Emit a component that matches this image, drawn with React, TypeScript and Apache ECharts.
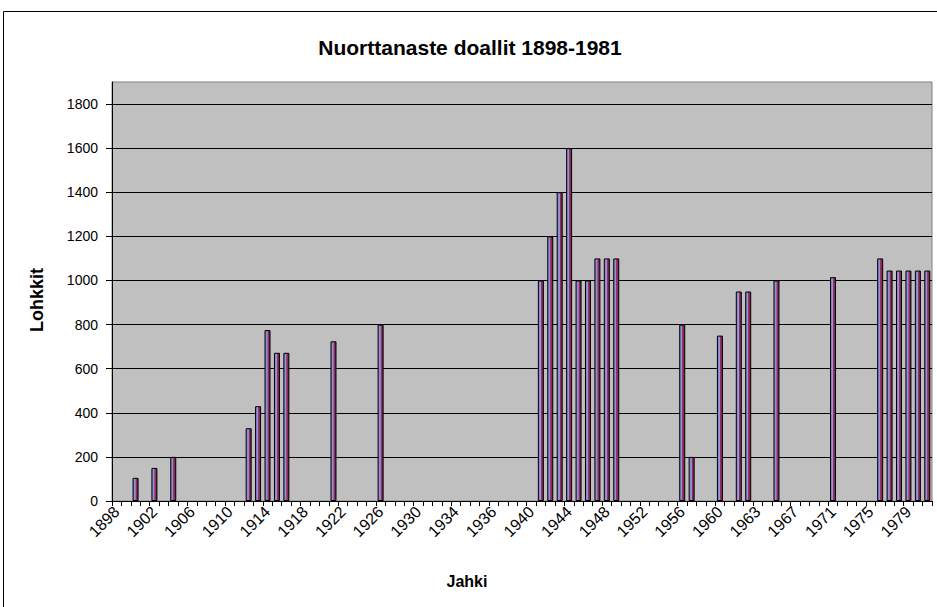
import React, { useEffect, useRef } from "react";
import * as echarts from "echarts";

const TITLE = "Nuorttanaste doallit 1898-1981";
const Y_NAME = "Lohkkit";
const X_NAME = "Jahki";

// Categories as they appear in the source sheet (labels shown every 4th)
const categories: string[] = [
  "1898", "1899", "1900", "1901", "1902", "1903", "1904", "1905",
  "1906", "1907", "1908", "1909", "1910", "1911", "1912", "1913",
  "1914", "1915", "1916", "1917", "1918", "1919", "1920", "1921",
  "1922", "1923", "1924", "1925", "1926", "1927", "1928", "1929",
  "1930", "1931", "1932", "1933", "1934", "1934", "1935", "1935",
  "1936", "1937", "1938", "1939", "1940", "1941", "1942", "1943",
  "1944", "1945", "1946", "1947", "1948", "1949", "1950", "1951",
  "1952", "1953", "1954", "1955", "1956", "1957", "1958", "1959",
  "1960", "1961", "1962", "1962", "1963", "1964", "1965", "1966",
  "1967", "1968", "1969", "1970", "1971", "1972", "1973", "1974",
  "1975", "1976", "1977", "1978", "1979", "1980", "1981",
];

// Values per category (null = no bar)
const values: (number | null)[] = [
  null, null, 105, null, 150, null, 200, null,
  null, null, null, null, null, null, 330, 430,
  775, 672, 672, null, null, null, null, 724,
  null, null, null, null, 800, null, null, null,
  null, null, null, null, null, null, null, null,
  null, null, null, null, null, 1000, 1200, 1400,
  1600, 1000, 1000, 1100, 1100, 1100, null, null,
  null, null, null, null, 800, 200, null, null,
  750, null, 950, 950, null, null, 1000, null,
  null, null, null, null, 1015, null, null, null,
  null, 1100, 1045, 1045, 1045, 1045, 1045,
];

const yTicks = { min: 0, max: 1900, interval: 200 };

const FONT = "'Liberation Sans', Arial, sans-serif";

export default function App() {
  const ref = useRef<HTMLDivElement>(null);
  useEffect(() => {
    if (!ref.current) return;
    const chart = echarts.init(ref.current, undefined, { renderer: "svg" });
    chart.setOption({
      animation: false,
      backgroundColor: "#ffffff",
      textStyle: { fontFamily: FONT },
      grid: {
        left: 112,
        right: 5,
        top: 82,
        bottom: 106,
        show: true,
        backgroundColor: "#C0C0C0",
        borderColor: "#808080",
        borderWidth: 1,
      },
      xAxis: {
        type: "category",
        data: categories,
        boundaryGap: true,
        axisLine: { show: true, lineStyle: { color: "#000", width: 1 } },
        axisTick: { show: true, interval: 0, length: 5, lineStyle: { color: "#000" } },
        axisLabel: {
          interval: 3,
          rotate: 45,
          fontSize: 16,
          color: "#000",
          fontFamily: FONT,
          margin: 8,
        },
        splitLine: { show: false },
      },
      yAxis: {
        type: "value",
        min: yTicks.min,
        max: yTicks.max,
        interval: yTicks.interval,
        axisLine: { show: true, lineStyle: { color: "#000", width: 1 } },
        axisTick: { show: true, length: 6, lineStyle: { color: "#000" } },
        axisLabel: {
          fontSize: 14,
          color: "#000",
          fontFamily: FONT,
          margin: 14,
          showMaxLabel: false,
          formatter: (v: number) => String(v),
        },
        splitLine: {
          show: true,
          showMaxLine: false,
          lineStyle: { color: "#000", width: 1 },
        },
      },
      series: [
        {
          type: "bar",
          data: values,
          barWidth: 6,
          itemStyle: {
            color: new echarts.graphic.LinearGradient(0, 0, 1, 0, [
              { offset: 0, color: "#7878C0" },
              { offset: 0.45, color: "#9999E0" },
              { offset: 0.55, color: "#993366" },
              { offset: 1, color: "#6e2248" },
            ]),
            borderColor: "#000",
            borderWidth: 1,
          },
        },
      ],
      graphic: [
        {
          type: "rect",
          shape: { x: 3.5, y: 11.5, width: 940, height: 610 },
          style: { fill: "none", stroke: "#000", lineWidth: 1 },
          silent: true,
        },
        {
          type: "text",
          x: 470,
          y: 47,
          style: {
            text: TITLE,
            fontSize: 21,
            fontWeight: "bold",
            fontFamily: FONT,
            fill: "#000",
            textAlign: "center",
            textVerticalAlign: "middle",
          },
        },
        {
          type: "text",
          x: 37,
          y: 300,
          rotation: Math.PI / 2,
          style: {
            text: Y_NAME,
            fontSize: 18,
            fontWeight: "bold",
            fontFamily: FONT,
            fill: "#000",
            textAlign: "center",
            textVerticalAlign: "middle",
          },
        },
        {
          type: "text",
          x: 467,
          y: 581,
          style: {
            text: X_NAME,
            fontSize: 16,
            fontWeight: "bold",
            fontFamily: FONT,
            fill: "#000",
            textAlign: "center",
            textVerticalAlign: "middle",
          },
        },
      ],
    });
    return () => chart.dispose();
  }, []);
  return (
    <div
      ref={ref}
      style={{ position: "fixed", left: 0, top: 0, width: 937, height: 607, background: "#fff" }}
    />
  );
}
